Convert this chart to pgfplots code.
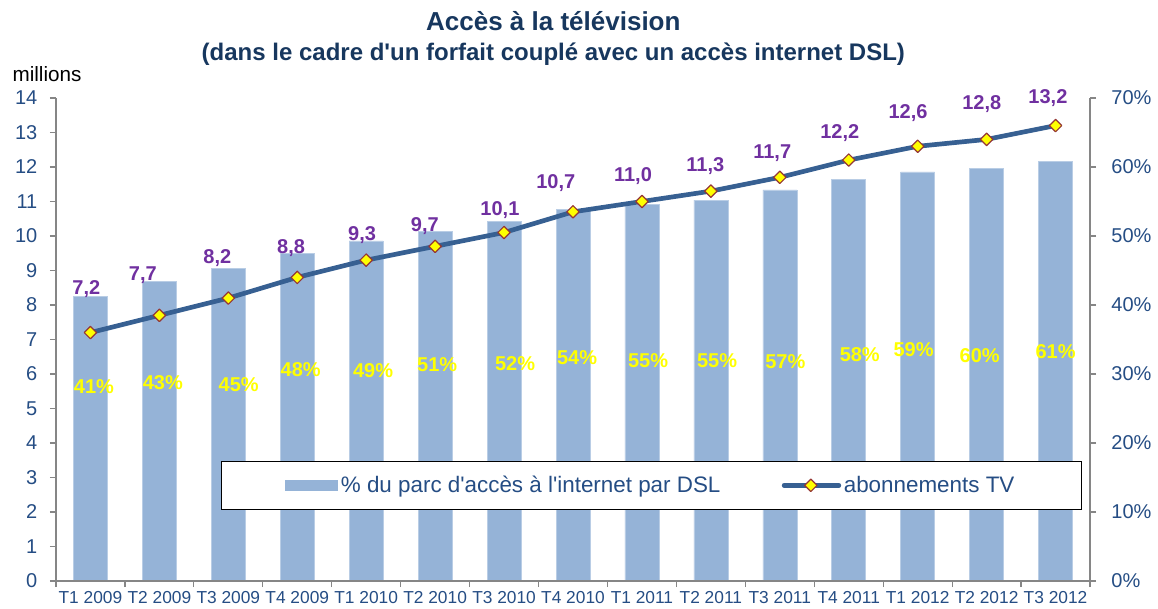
\documentclass[border=0pt]{standalone}
\usepackage{fontspec}
\setmainfont{Liberation Sans}
\usepackage{pgfplots}
\pgfplotsset{compat=1.18}
\usepackage{pgfplotstable}

\definecolor{barblue}{HTML}{95B3D7}
\definecolor{baredge}{HTML}{B9CDE5}
\definecolor{lineblue}{HTML}{376092}
\definecolor{markred}{HTML}{953735}
\definecolor{lblpurple}{HTML}{7030A0}
\definecolor{tickblue}{HTML}{254D84}
\definecolor{titleblue}{HTML}{17375E}
\definecolor{axisgray}{HTML}{868686}
\definecolor{lblyellow}{HTML}{FFFF00}

\pgfplotsset{
  tvlegend/.style={legend image code/.code={\draw[mark repeat=2,mark phase=2,line cap=round,##1] plot coordinates {(0pt,0pt) (20pt,0pt) (41pt,0pt)};}},
  barlegend/.style={legend image code/.code={\fill[barblue] (0pt,-4pt) rectangle (39pt,4pt);}},
}

\pgfplotstableread{
x pct
0 41.3
1 43.4
2 45.3
3 47.5
4 49.3
5 50.7
6 52.1
7 53.9
8 54.6
9 55.2
10 56.7
11 58.2
12 59.3
13 59.8
14 60.8
}\bars

\pgfplotstableread{
x tv
0 7.2
1 7.7
2 8.2
3 8.8
4 9.3
5 9.7
6 10.1
7 10.7
8 11.0
9 11.3
10 11.7
11 12.2
12 12.6
13 12.8
14 13.2
}\tv

\pgfplotstableread{
x y lab
-0.06 8.46 7,2
0.76 8.87 7,7
1.84 9.36 8,2
2.91 9.65 8,8
3.94 10.03 9,3
4.85 10.29 9,7
5.94 10.75 10,1
6.75 11.54 10,7
7.87 11.74 11,0
8.92 12.03 11,3
9.89 12.41 11,7
10.87 12.99 12,2
11.86 13.57 12,6
12.93 13.83 12,8
13.89 14.00 13,2
}\tvlab

\pgfplotstableread{
x y lab
0.05 5.63 41
1.05 5.75 43
2.15 5.68 45
3.05 6.12 48
4.10 6.10 49
5.03 6.26 51
6.16 6.31 52
7.06 6.46 54
8.09 6.38 55
9.09 6.38 55
10.08 6.36 57
11.16 6.55 58
11.94 6.70 59
12.90 6.52 60
14.00 6.65 61
}\pctlab

\begin{document}
\begin{tikzpicture}
\pgfplotsset{
  common/.style={
    width=775.5pt, height=362.25pt, scale only axis,
    xmin=-0.5, xmax=14.5,
    tick align=outside,
    axis line style={axisgray, line width=0.9pt},
    tick style={axisgray, line width=0.9pt},
    major tick length=4.5pt,
    y tick label style={font=\fontsize{15}{17}\selectfont, text=tickblue},
    x tick label style={font=\fontsize{13}{15}\selectfont, text=tickblue},
  }
}
% ---- bars on the right axis ----
\begin{axis}[common,
  axis x line=none,
  axis y line*=right,
  ymin=0, ymax=70,
  ytick={0,10,20,30,40,50,60,70},
  yticklabels={0\%,10\%,20\%,30\%,40\%,50\%,60\%,70\%},
  y tick label style={xshift=8pt},
]
\addplot[ybar, bar width=25.5pt, bar shift=0pt, fill=barblue, draw=baredge, line width=0.4pt] table[x=x, y=pct] {\bars};
\end{axis}
% ---- line on the left axis ----
\begin{axis}[common,
  clip=false,
  axis x line*=bottom,
  axis y line*=left,
  ymin=0, ymax=14,
  ytick={0,1,2,3,4,5,6,7,8,9,10,11,12,13,14},
  yticklabels={0,1,2,3,4,5,6,7,8,9,10,11,12,13,14},
  y tick label style={xshift=-6pt},
  xtick={-0.5,0.5,1.5,2.5,3.5,4.5,5.5,6.5,7.5,8.5,9.5,10.5,11.5,12.5,13.5,14.5},
  xticklabels={},
  extra x ticks={0,1,2,3,4,5,6,7,8,9,10,11,12,13,14},
  extra x tick labels={T1 2009,T2 2009,T3 2009,T4 2009,T1 2010,T2 2010,T3 2010,T4 2010,T1 2011,T2 2011,T3 2011,T4 2011,T1 2012,T2 2012,T3 2012},
  extra x tick style={major tick length=0pt, tick label style={yshift=-4.5pt}},
  legend columns=2,
  legend cell align=left,
  legend style={at={(rel axis cs:0.1596,0.2484)}, anchor=north west,
    draw=black, line width=0.6pt, fill=white,
    font=\fontsize{16.8}{18}\selectfont, text=tickblue,
    inner xsep=48pt, inner ysep=9pt,
    /tikz/every even column/.append style={column sep=44pt}},
]
\addlegendimage{barlegend}
\addlegendentry{\% du parc d\textquotesingle accès à l\textquotesingle internet par DSL}
\addplot[lineblue, line width=3.5pt, line join=round,
  mark=square*, mark size=3.3pt,
  mark options={rotate=45, fill=lblyellow, draw=markred, line width=0.9pt, solid},
  tvlegend
] table[x=x, y=tv] {\tv};
\addlegendentry{abonnements TV}

\addplot[draw=none, mark=none, forget plot,
  nodes near coords, point meta=explicit symbolic,
  every node near coord/.append style={anchor=center, inner sep=0pt,
    font=\bfseries\fontsize{15}{17}\selectfont, text=lblpurple}]
  table[x=x, y=y, meta=lab] {\tvlab};
\addplot[draw=none, mark=none, forget plot,
  nodes near coords={\pgfplotspointmeta\%}, point meta=explicit symbolic,
  every node near coord/.append style={anchor=center, inner sep=0pt,
    font=\bfseries\fontsize{15}{17}\selectfont, text=lblyellow}]
  table[x=x, y=y, meta=lab] {\pctlab};

\node[font=\bfseries\fontsize{19.5}{22}\selectfont, text=titleblue] at (rel axis cs:0.481,1.160) {Accès à la télévision};
\node[font=\bfseries\fontsize{18}{21}\selectfont, text=titleblue] at (rel axis cs:0.481,1.090) {(dans le cadre d\textquotesingle un forfait couplé avec un accès internet DSL)};
\node[font=\fontsize{15.5}{17}\selectfont, text=black] at (rel axis cs:-0.0087,1.0497) {millions};
\path[draw=none] (rel axis cs:-0.05416,-0.05797) rectangle (rel axis cs:1.06576,1.2029);
\end{axis}
\end{tikzpicture}
\end{document}
